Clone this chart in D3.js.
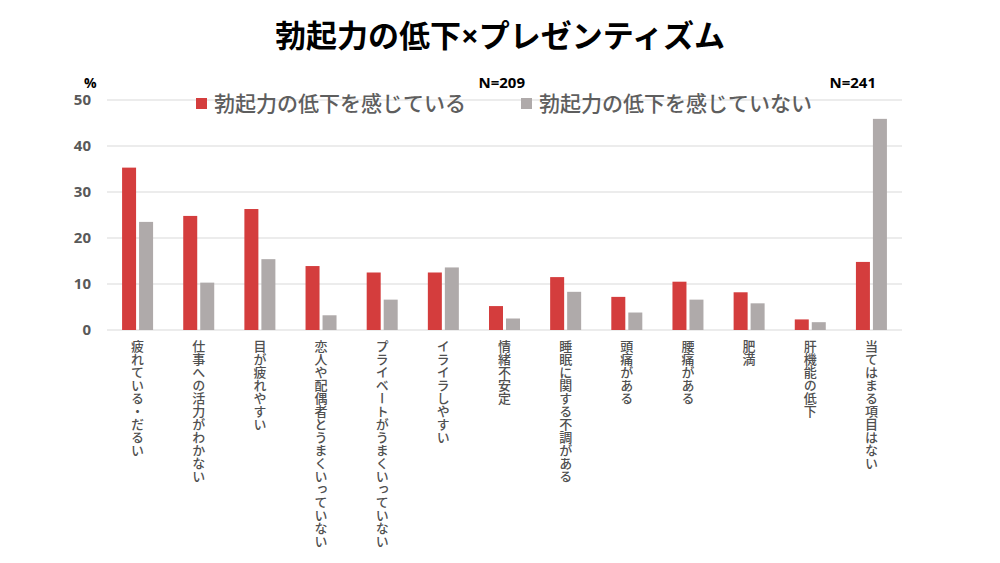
<!DOCTYPE html>
<html>
<head>
<meta charset="utf-8">
<script src="https://cdn.jsdelivr.net/npm/d3@7"></script>
<style>
  body { margin: 0; background: #fff; }
  svg { font-family: "Noto Sans CJK JP", "Noto Sans", sans-serif; }
</style>
</head>
<body>
<svg id="chart"></svg>
<script>
var categories = ["疲れている・だるい", "仕事への活力がわかない", "目が疲れやすい", "恋人や配偶者とうまくいっていない",
  "プライベートがうまくいっていない", "イライラしやすい", "情緒不安定", "睡眠に関する不調がある",
  "頭痛がある", "腰痛がある", "肥満", "肝機能の低下", "当てはまる項目はない"];
var feeling = [35.3, 24.8, 26.3, 13.9, 12.5, 12.5, 5.2, 11.5, 7.2, 10.5, 8.2, 2.3, 14.8];
var notFeeling = [23.5, 10.3, 15.4, 3.2, 6.6, 13.6, 2.5, 8.3, 3.8, 6.6, 5.8, 1.7, 45.9];
var seriesNames = ["勃起力の低下を感じている", "勃起力の低下を感じていない"];
var sampleSizes = ["N=209", "N=241"];
var yTicks = [0, 10, 20, 30, 40, 50];

var svgWidth = 1000, svgHeight = 563;
var margin = { top: 100, right: 98, bottom: 233, left: 107 };
var width = svgWidth - margin.left - margin.right;
var height = svgHeight - margin.top - margin.bottom;
var colors = ["#d43d3d", "#afaaaa"];

var svg = d3.select("#chart")
  .attr("width", svgWidth)
  .attr("height", svgHeight);

svg.append("text")
  .attr("x", 500)
  .attr("y", 47)
  .attr("text-anchor", "middle")
  .attr("font-size", 31)
  .attr("font-weight", "bold")
  .attr("fill", "#000")
  .attr("font-family", "\"Noto Sans\", \"Noto Sans CJK JP\", sans-serif")
  .text("勃起力の低下×プレゼンティズム");

var g = svg.append("g")
  .attr("transform", "translate(" + margin.left + "," + margin.top + ")");

var x = d3.scaleBand()
  .domain(categories)
  .range([0, width]);

var y = d3.scaleLinear()
  .domain([0, 50])
  .range([height, 0]);

g.append("g")
  .selectAll("line")
  .data(yTicks)
  .enter().append("line")
  .attr("x1", 0)
  .attr("x2", width)
  .attr("y1", function (d) { return y(d) })
  .attr("y2", function (d) { return y(d) })
  .attr("stroke", "#d9d9d9")
  .attr("stroke-width", 1);

var yAxis = g.append("g")
  .call(d3.axisLeft(y).tickValues(yTicks).tickSize(0).tickPadding(16));
yAxis.select(".domain").remove();
yAxis.selectAll("text")
  .attr("font-size", 15)
  .attr("font-weight", "bold")
  .attr("fill", "#595959")
  .attr("font-family", "\"Open Sans\", sans-serif");

var barW = 14, gap = 3;
var series = [feeling, notFeeling];
series.forEach(function (vals, si) {
  g.append("g")
    .selectAll("rect")
    .data(vals)
    .enter().append("rect")
    .attr("x", function (d, i) {
      var c = x(categories[i]) + x.bandwidth() / 2;
      return si == 0 ? c - barW - gap / 2 : c + gap / 2;
    })
    .attr("y", function (d) { return y(d) })
    .attr("width", barW)
    .attr("height", function (d) { return height - y(d) })
    .attr("fill", colors[si]);
});

g.append("g")
  .selectAll("text")
  .data(categories)
  .enter().append("text")
  .attr("x", function (d) { return x(d) + x.bandwidth() / 2 })
  .attr("y", height + 10)
  .style("writing-mode", "vertical-rl")
  .attr("font-size", 13)
  .attr("font-weight", 500)
  .attr("fill", "#505050")
  .text(function (d) { return d });

// legend
var legendX = [196, 521];
seriesNames.forEach(function (name, i) {
  svg.append("rect")
    .attr("x", legendX[i])
    .attr("y", 98)
    .attr("width", 11)
    .attr("height", 11)
    .attr("fill", colors[i]);
  svg.append("text")
    .attr("x", legendX[i] + 18)
    .attr("y", 111)
    .attr("font-size", 21)
    .attr("font-weight", 500)
    .attr("fill", "#5e5e5e")
    .text(name);
});

svg.append("text")
  .attr("x", 84)
  .attr("y", 88)
  .attr("font-size", 14)
  .attr("font-weight", "bold")
  .attr("fill", "#000")
  .attr("font-family", "\"Open Sans\", sans-serif")
  .text("%");

var nX = [525, 876];
sampleSizes.forEach(function (s, i) {
  svg.append("text")
    .attr("x", nX[i])
    .attr("y", 88)
    .attr("text-anchor", "end")
    .attr("font-size", 15)
    .attr("font-weight", "bold")
    .attr("fill", "#000")
    .attr("font-family", "\"Open Sans\", sans-serif")
    .text(s);
});
</script>
</body>
</html>
